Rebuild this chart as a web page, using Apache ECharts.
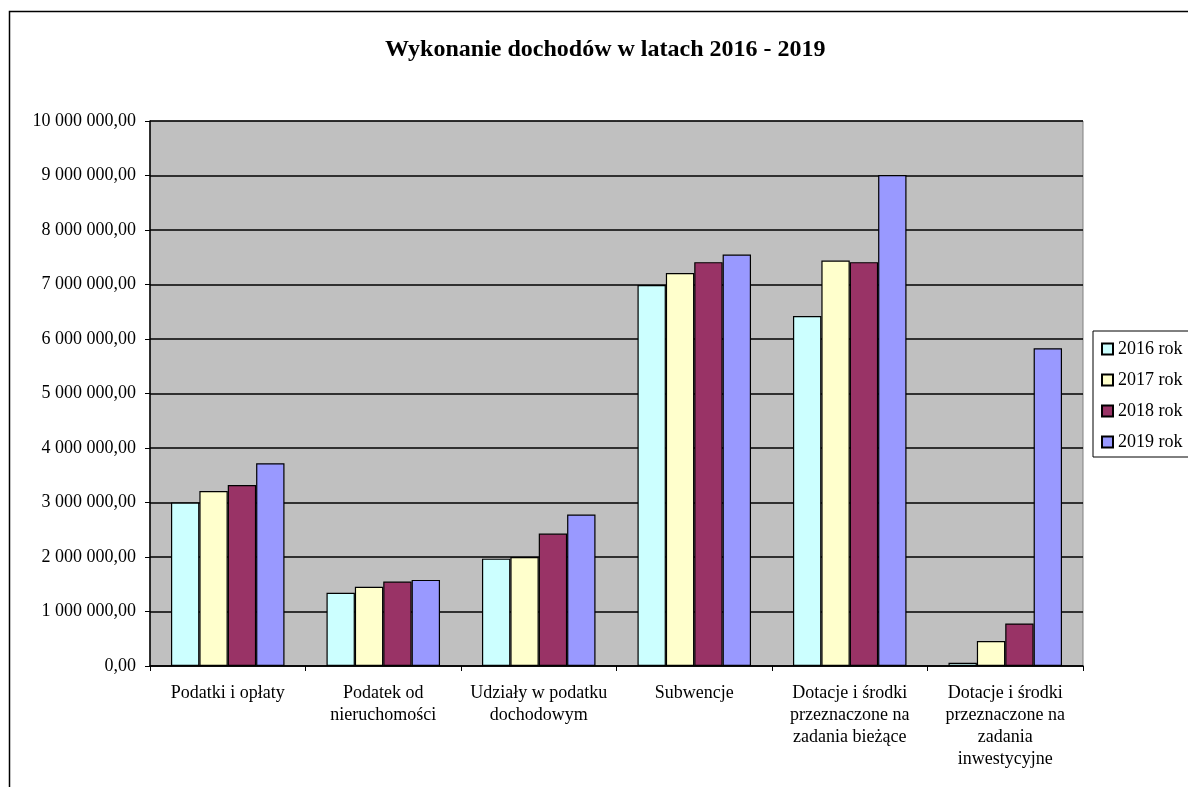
<!DOCTYPE html>
<html>
<head>
<meta charset="utf-8">
<script src="https://cdn.jsdelivr.net/npm/echarts@6/dist/echarts.min.js"></script>
<style>
  html, body { margin: 0; padding: 0; background: #fff; }
  #chart { width: 1188px; height: 787px; }
</style>
</head>
<body>
<div id="chart"></div>
<script>
const categories = [
  'Podatki i opłaty',
  'Podatek od\nnieruchomości',
  'Udziały w podatku\ndochodowym',
  'Subwencje',
  'Dotacje i środki\nprzeznaczone na\nzadania bieżące',
  'Dotacje i środki\nprzeznaczone na\nzadania\ninwestycyjne',
]

const y2016 = [3000000, 1345000, 1970000, 6990000, 6420000, 60000]
const y2017 = [3210000, 1455000, 2000000, 7210000, 7440000, 460000]
const y2018 = [3320000, 1550000, 2430000, 7410000, 7410000, 780000]
const y2019 = [3720000, 1580000, 2780000, 7550000, 9010000, 5830000]

const seriesNames = ['2016 rok', '2017 rok', '2018 rok', '2019 rok']
const colors = ['#CCFFFF', '#FFFFCC', '#993366', '#9999FF']

const font = '"Liberation Serif", "Times New Roman", serif'

function fmt(v) {
  const s = Math.round(v).toString().replace(/\B(?=(\d{3})+(?!\d))/g, ' ')
  return s + ',00'
}

const chart = echarts.init(document.getElementById('chart'))

chart.setOption({
  animation: false,
  color: colors,
  textStyle: { fontFamily: font, color: '#000' },
  title: {
    text: 'Wykonanie dochodów w latach 2016 - 2019',
    left: 380,
    top: 33,
    textStyle: { fontFamily: font, fontSize: 24, fontWeight: 'bold', color: '#000' },
  },
  graphic: [
    {
      type: 'rect',
      shape: { x: 9.5, y: 11.5, width: 1200, height: 800 },
      style: { fill: 'none', stroke: '#000', lineWidth: 1.5 },
      silent: true,
    },
  ],
  legend: {
    orient: 'vertical',
    left: 1093,
    top: 331,
    itemWidth: 11,
    itemHeight: 11,
    itemGap: 13,
    padding: [9, 40, 6, 8],
    backgroundColor: '#fff',
    borderColor: '#000',
    borderWidth: 1,
    icon: 'rect',
    textStyle: { fontFamily: font, fontSize: 18, color: '#000' },
    data: seriesNames,
  },
  grid: {
    left: 150,
    right: 105,
    top: 121,
    bottom: 121,
    show: true,
    backgroundColor: '#C0C0C0',
    borderColor: '#808080',
    borderWidth: 1,
  },
  xAxis: {
    type: 'category',
    data: categories,
    axisLine: { lineStyle: { color: '#000', width: 1.5 } },
    axisTick: { show: true, length: 5, lineStyle: { color: '#000' } },
    axisLabel: {
      fontFamily: font,
      fontSize: 18,
      color: '#000',
      lineHeight: 22,
      margin: 16,
      interval: 0,
    },
  },
  yAxis: {
    type: 'value',
    min: 0,
    max: 10000000,
    interval: 1000000,
    axisLine: { show: true, lineStyle: { color: '#000', width: 1.5 } },
    axisTick: { show: true, length: 5, lineStyle: { color: '#000' } },
    splitLine: { lineStyle: { color: '#000', width: 1.5 } },
    axisLabel: {
      fontFamily: font,
      fontSize: 18,
      color: '#000',
      margin: 14,
      formatter: fmt,
    },
  },
  series: [y2016, y2017, y2018, y2019].map((d, i) => ({
    name: seriesNames[i],
    type: 'bar',
    data: d,
    barGap: '0%',
    barCategoryGap: '27%',
    itemStyle: { borderColor: '#000', borderWidth: 1.2 },
  })),
})
</script>
</body>
</html>
